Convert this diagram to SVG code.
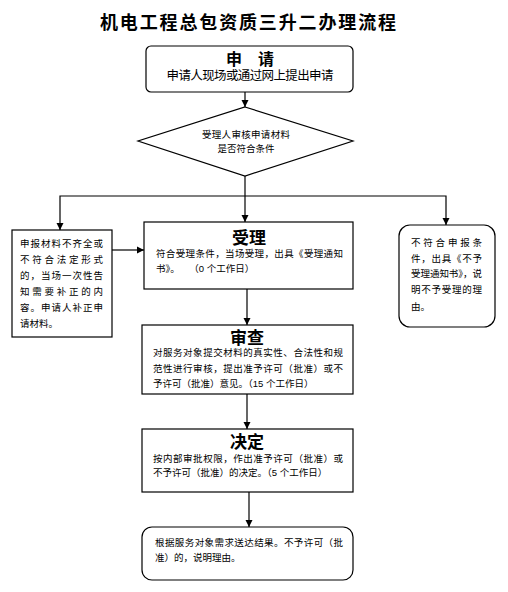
<svg xmlns="http://www.w3.org/2000/svg" width="508" height="592" viewBox="0 0 508 592">
<defs>
<marker id="ah" markerWidth="8" markerHeight="8" refX="7" refY="4" orient="auto" markerUnits="userSpaceOnUse">
<path d="M0,0.5 L7,4 L0,7.5 Z" fill="#000"/>
</marker>
<style>
.box{fill:#fff;stroke:#000;stroke-width:1.2}
.t{font-family:"Liberation Sans","Noto Sans CJK SC",sans-serif;fill:#000}
.s{font-size:9.5px}
.h{font-size:17px;font-weight:bold;text-anchor:middle}
.c{fill:none;stroke:#000;stroke-width:1.2}
</style>
</defs>
<rect width="508" height="592" fill="#fff"/>
<text class="t" x="248" y="29" font-size="18" font-weight="bold" text-anchor="middle" textLength="296" lengthAdjust="spacing">机电工程总包资质三升二办理流程</text>

<g id="connectors">
<line class="c" x1="245" y1="92" x2="245" y2="107" marker-end="url(#ah)"/>
<line class="c" x1="245" y1="176" x2="245" y2="222" marker-end="url(#ah)"/>
<polyline class="c" points="245,196 60,196 60,230" marker-end="url(#ah)"/>
<polyline class="c" points="245,196 446,196 446,225" marker-end="url(#ah)"/>
<line class="c" x1="112" y1="250" x2="144" y2="250" marker-end="url(#ah)"/>
<line class="c" x1="247" y1="289" x2="247" y2="325" marker-end="url(#ah)"/>
<line class="c" x1="247" y1="394" x2="247" y2="429" marker-end="url(#ah)"/>
<line class="c" x1="249" y1="492" x2="249" y2="527" marker-end="url(#ah)"/>
</g>

<g id="apply">
<rect class="box" x="146" y="46" width="207" height="46" rx="5"/>
<text class="t" x="250" y="65" font-size="16" font-weight="bold" text-anchor="middle">申　请</text>
<text class="t" x="250" y="80" font-size="12.5" text-anchor="middle" textLength="167" lengthAdjust="spacing">申请人现场或通过网上提出申请</text>
</g>

<g id="check">
<polygon class="box" points="245,107 353,141 245,176 138,141"/>
<text class="t s" x="246" y="138" text-anchor="middle" textLength="88" lengthAdjust="spacing">受理人审核申请材料</text>
<text class="t s" x="246" y="152" text-anchor="middle">是否符合条件</text>
</g>

<g id="incomplete">
<rect class="box" x="12" y="230" width="100" height="107"/>
<text class="t s" x="20" y="247" textLength="83" lengthAdjust="spacing">申报材料不齐全或</text>
<text class="t s" x="20" y="263" textLength="83" lengthAdjust="spacing">不符合法定形式</text>
<text class="t s" x="20" y="279" textLength="83" lengthAdjust="spacing">的，当场一次性告</text>
<text class="t s" x="20" y="295" textLength="83" lengthAdjust="spacing">知需要补正的内</text>
<text class="t s" x="20" y="311" textLength="83" lengthAdjust="spacing">容。申请人补正申</text>
<text class="t s" x="20" y="327">请材料。</text>
</g>

<g id="accept">
<rect class="box" x="144" y="222" width="209" height="67"/>
<text class="t h" x="249" y="244">受理</text>
<text class="t s" x="156" y="257" textLength="187" lengthAdjust="spacing">符合受理条件，当场受理，出具《受理通知</text>
<text class="t s" x="156" y="272" xml:space="preserve">书》。　　（0 个工作日）</text>
</g>

<g id="reject">
<rect class="box" x="399" y="225" width="96" height="102" rx="11"/>
<text class="t s" x="411" y="246" textLength="71" lengthAdjust="spacing">不符合申报条</text>
<text class="t s" x="411" y="262" textLength="71" lengthAdjust="spacing">件，出具《不予</text>
<text class="t s" x="411" y="277" textLength="71" lengthAdjust="spacing">受理通知书》，说</text>
<text class="t s" x="411" y="293" textLength="71" lengthAdjust="spacing">明不予受理的理</text>
<text class="t s" x="411" y="310">由。</text>
</g>

<g id="review">
<rect class="box" x="142" y="325" width="211" height="69"/>
<text class="t h" x="247" y="344">审查</text>
<text class="t s" x="153" y="356" textLength="190" lengthAdjust="spacing">对服务对象提交材料的真实性、合法性和规</text>
<text class="t s" x="153" y="372" textLength="190" lengthAdjust="spacing">范性进行审核，提出准予许可（批准）或不</text>
<text class="t s" x="153" y="387">予许可（批准）意见。（15 个工作日）</text>
</g>

<g id="decide">
<rect class="box" x="142" y="429" width="211" height="63"/>
<text class="t h" x="247" y="448">决定</text>
<text class="t s" x="153" y="462" textLength="190" lengthAdjust="spacing">按内部审批权限，作出准予许可（批准）或</text>
<text class="t s" x="153" y="476">不予许可（批准）的决定。（5 个工作日）</text>
</g>

<g id="deliver">
<rect class="box" x="142" y="527" width="211" height="53" rx="10"/>
<text class="t s" x="155" y="546" textLength="188" lengthAdjust="spacing">根据服务对象需求送达结果。不予许可（批</text>
<text class="t s" x="155" y="561">准）的，说明理由。</text>
</g>
</svg>
